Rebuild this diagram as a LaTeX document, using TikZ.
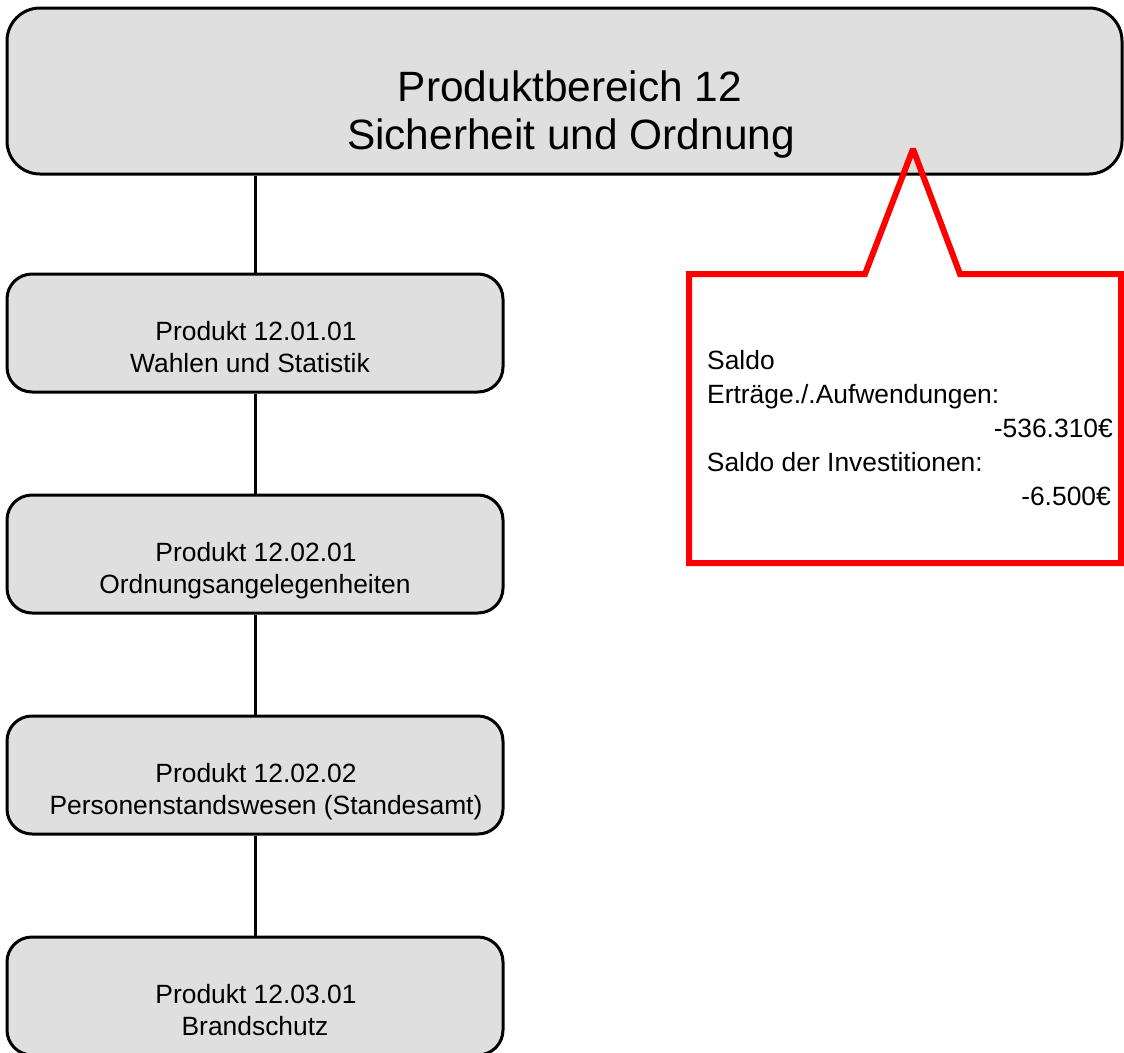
\documentclass[tikz,border=0pt]{standalone}
\usepackage{fontspec}
\setmainfont{Liberation Sans}
\definecolor{boxgray}{RGB}{223,223,223}
\definecolor{calloutred}{RGB}{255,0,0}
\begin{document}
\begin{tikzpicture}[x=1pt,y=-1pt,
  headbox/.style={draw=black, line width=3pt, fill=boxgray, rounded corners=33pt,
    minimum width=1115pt, minimum height=166pt, inner sep=0pt},
  prodbox/.style={draw=black, line width=3pt, fill=boxgray, rounded corners=25pt,
    minimum width=496pt, minimum height=118pt, inner sep=0pt},
  headtext/.style={font=\fontsize{42.4pt}{47pt}\selectfont, inner sep=0pt, anchor=base},
  prodtext/.style={font=\fontsize{26.4pt}{32pt}\selectfont, inner sep=0pt, anchor=base},
  calltext/.style={font=\fontsize{26.4pt}{34pt}\selectfont, inner sep=0pt},
  conn/.style={draw=black, line width=3pt},
  callout/.style={draw=calloutred, line width=6pt, line join=miter, miter limit=2}
]
\useasboundingbox (0,0) rectangle (1124,1052);

% section header
\node[headbox] (head) at (564.5,91) {};
\node[headtext] (headA) at (570,101) {Produktbereich 12};
\node[headtext] (headB) at (571,149.5) {Sicherheit und Ordnung};

% product boxes
\node[prodbox] (p1) at (255,333) {};
\node[prodbox] (p2) at (255,554) {};
\node[prodbox] (p3) at (255,775) {};
\node[prodbox] (p4) at (255,996) {};

\node[prodtext] (p1a) at (256,340.5) {Produkt 12.01.01};
\node[prodtext] (p1b) at (250,372) {Wahlen und Statistik};
\node[prodtext] (p2a) at (256,561.5) {Produkt 12.02.01};
\node[prodtext] (p2b) at (255,593) {Ordnungsangelegenheiten};
\node[prodtext] (p3a) at (256,782.5) {Produkt 12.02.02};
\node[prodtext] (p3b) at (266,814) {Personenstandswesen (Standesamt)};
\node[prodtext] (p4a) at (256,1003.5) {Produkt 12.03.01};
\node[prodtext] (p4b) at (255,1035) {Brandschutz};

% vertical connectors
\draw[conn] (p1.north |- head.south) -- (p1.north);
\draw[conn] (p1.south) -- (p2.north);
\draw[conn] (p2.south) -- (p3.north);
\draw[conn] (p3.south) -- (p4.north);

% callout with pointer
\coordinate (tip) at (913,149);
\coordinate (cTL) at (689,274);
\coordinate (cTR) at (1121,274);
\coordinate (cBR) at (1121,563);
\coordinate (cBL) at (689,563);
\coordinate (footL) at (865,274);
\coordinate (footR) at (960,274);
\draw[callout] (cTL) -- (footL) -- (tip) -- (footR) -- (cTR) -- (cBR) -- (cBL) -- cycle;

\node[calltext, anchor=base west] (s1) at (707,369.5) {Saldo};
\node[calltext, anchor=base west] (s2) at (707,403.5) {Erträge./.Aufwendungen:};
\node[calltext, anchor=base east] (s3) at (1113,437) {-536.310€};
\node[calltext, anchor=base east] (s4) at (983,471) {Saldo der Investitionen:};
\node[calltext, anchor=base east] (s5) at (1111,505) {-6.500€};
\end{tikzpicture}
\end{document}
